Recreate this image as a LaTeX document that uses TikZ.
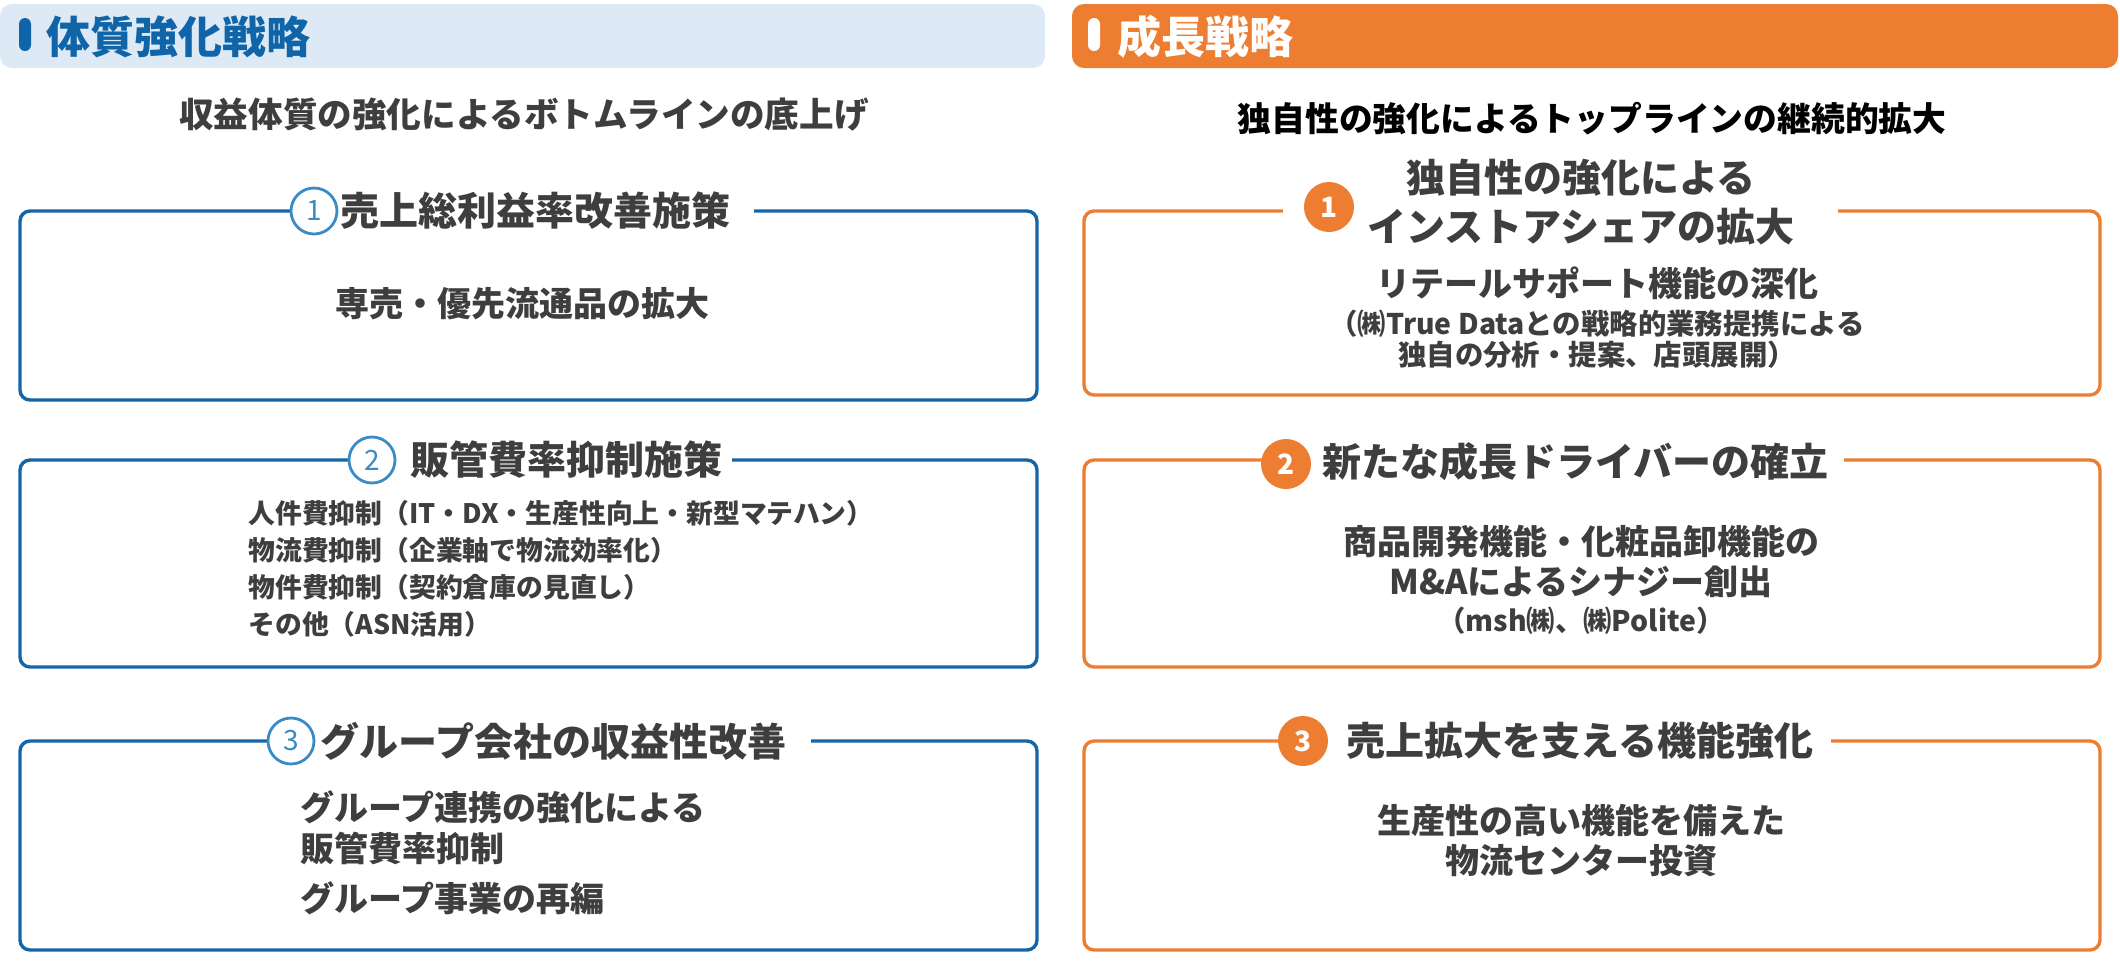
\documentclass[tikz,border=0pt]{standalone}
\usepackage{fontspec}
\setmainfont{Noto Sans CJK JP}
\definecolor{hbg}{RGB}{221,233,245}
\definecolor{hblue}{RGB}{16,100,168}
\definecolor{boxblue}{RGB}{20,101,168}
\definecolor{cblue}{RGB}{58,138,198}
\definecolor{orng}{RGB}{237,125,49}
\definecolor{txt}{RGB}{62,62,62}
\tikzset{
  boxL/.style={draw=boxblue, line width=1.7pt, rounded corners=5pt, fill=white},
  boxR/.style={draw=orng, line width=1.7pt, rounded corners=5pt, fill=white},
  gapfill/.style={fill=white},
  ttl/.style={font=\fontsize{19.5}{24.5}\selectfont\bfseries, text=txt, inner sep=0pt, align=center},
  numL/.style={circle, draw=cblue, line width=1.4pt, fill=white, minimum size=23pt, inner sep=0pt, text=cblue, font=\fontsize{14}{14}\selectfont},
  numR/.style={circle, fill=orng, minimum size=25pt, inner sep=0pt, text=white, font=\fontsize{14}{14}\selectfont\bfseries},
  body/.style={font=\fontsize{17}{20}\selectfont\bfseries, text=txt, inner sep=0pt, align=center},
  bodyS/.style={font=\fontsize{14.2}{15.5}\selectfont\bfseries, text=txt, inner sep=0pt, align=center},
  bodyL/.style={font=\fontsize{13.4}{18.5}\selectfont\bfseries, text=txt, inner sep=0pt, align=left},
  head/.style={font=\fontsize{22}{22}\selectfont\bfseries, inner sep=0pt, anchor=west},
  sub/.style={font=\fontsize{16.9}{16.9}\selectfont\bfseries, inner sep=0pt},
}
\begin{document}
\begin{tikzpicture}[x=0.5pt,y=-0.5pt]
\useasboundingbox (0,0) rectangle (2120,960);
% headers
\fill[hbg, rounded corners=6pt] (0,4) rectangle (1045,68);
\fill[hblue, rounded corners=3pt] (19,18) rectangle (31,51);
\node[head, text=hblue] (hL) at (46,37) {体質強化戦略};
\fill[orng, rounded corners=6pt] (1072,4) rectangle (2118,68);
\fill[white, rounded corners=3pt] (1088,18) rectangle (1100,51);
\node[head, text=white] (hR) at (1117,37) {成長戦略};
\node[sub, text=txt, font=\fontsize{17.3}{17.3}\selectfont\bfseries] (sL) at (524,115) {収益体質の強化によるボトムラインの底上げ};
\node[sub, text=black] (sR) at (1592,119) {独自性の強化によるトップラインの継続的拡大};

% left box 1
\draw[boxL] (20,211) rectangle (1037,400);
\fill[gapfill] (291,195) rectangle (754,227);
\node[numL] (nL1) at (314,211) {1};
\node[ttl, anchor=west] (tL1) at (340,211) {売上総利益率改善施策};
\node[body] (bL1) at (522,304) {専売・優先流通品の拡大};

% left box 2
\draw[boxL] (20,460) rectangle (1037,667);
\fill[gapfill] (349,444) rectangle (732,476);
\node[numL] (nL2) at (372,460) {2};
\node[ttl, anchor=west] (tL2) at (410,460) {販管費率抑制施策};
\node[bodyL, anchor=north west] (bL2) at (248,500) {人件費抑制（IT・DX・生産性向上・新型マテハン）\\物流費抑制（企業軸で物流効率化）\\物件費抑制（契約倉庫の見直し）\\その他（ASN活用）};

% left box 3
\draw[boxL] (20,741) rectangle (1037,950);
\fill[gapfill] (268,725) rectangle (811,757);
\node[numL] (nL3) at (291,741) {3};
\node[ttl, anchor=west] (tL3) at (320,741) {グループ会社の収益性改善};
\node[body, anchor=west] (bL3a) at (300,807) {グループ連携の強化による};
\node[body, anchor=west] (bL3b) at (300,848) {販管費率抑制};
\node[body, anchor=west] (bL3c) at (300,898) {グループ事業の再編};

% right box 1
\draw[boxR] (1084,211) rectangle (2100,395);
\fill[gapfill] (1283,195) rectangle (1838,227);
\node[numR] (nR1) at (1329,207) {1};
\node[ttl] (tR1) at (1581,202) {独自性の強化による\\インストアシェアの拡大};
\node[body] (bR1) at (1597,283) {リテールサポート機能の深化};
\node[bodyS] (bR1s) at (1597,339) {（㈱True Dataとの戦略的業務提携による\\独自の分析・提案、店頭展開）};

% right box 2
\draw[boxR] (1084,460) rectangle (2100,667);
\fill[gapfill] (1263,444) rectangle (1844,476);
\node[numR] (nR2) at (1286,464) {2};
\node[ttl, anchor=west] (tR2) at (1322,462) {新たな成長ドライバーの確立};
\node[body] (bR2) at (1581,561) {商品開発機能・化粧品卸機能の\\M\&Aによるシナジー創出};
\node[bodyS] (bR2s) at (1581,621) {（msh㈱、㈱Polite）};

% right box 3
\draw[boxR] (1084,741) rectangle (2100,950);
\fill[gapfill] (1280,725) rectangle (1831,757);
\node[numR] (nR3) at (1303,741) {3};
\node[ttl, anchor=west] (tR3) at (1346,741) {売上拡大を支える機能強化};
\node[body] (bR3) at (1581,841) {生産性の高い機能を備えた\\物流センター投資};
\end{tikzpicture}
\end{document}
